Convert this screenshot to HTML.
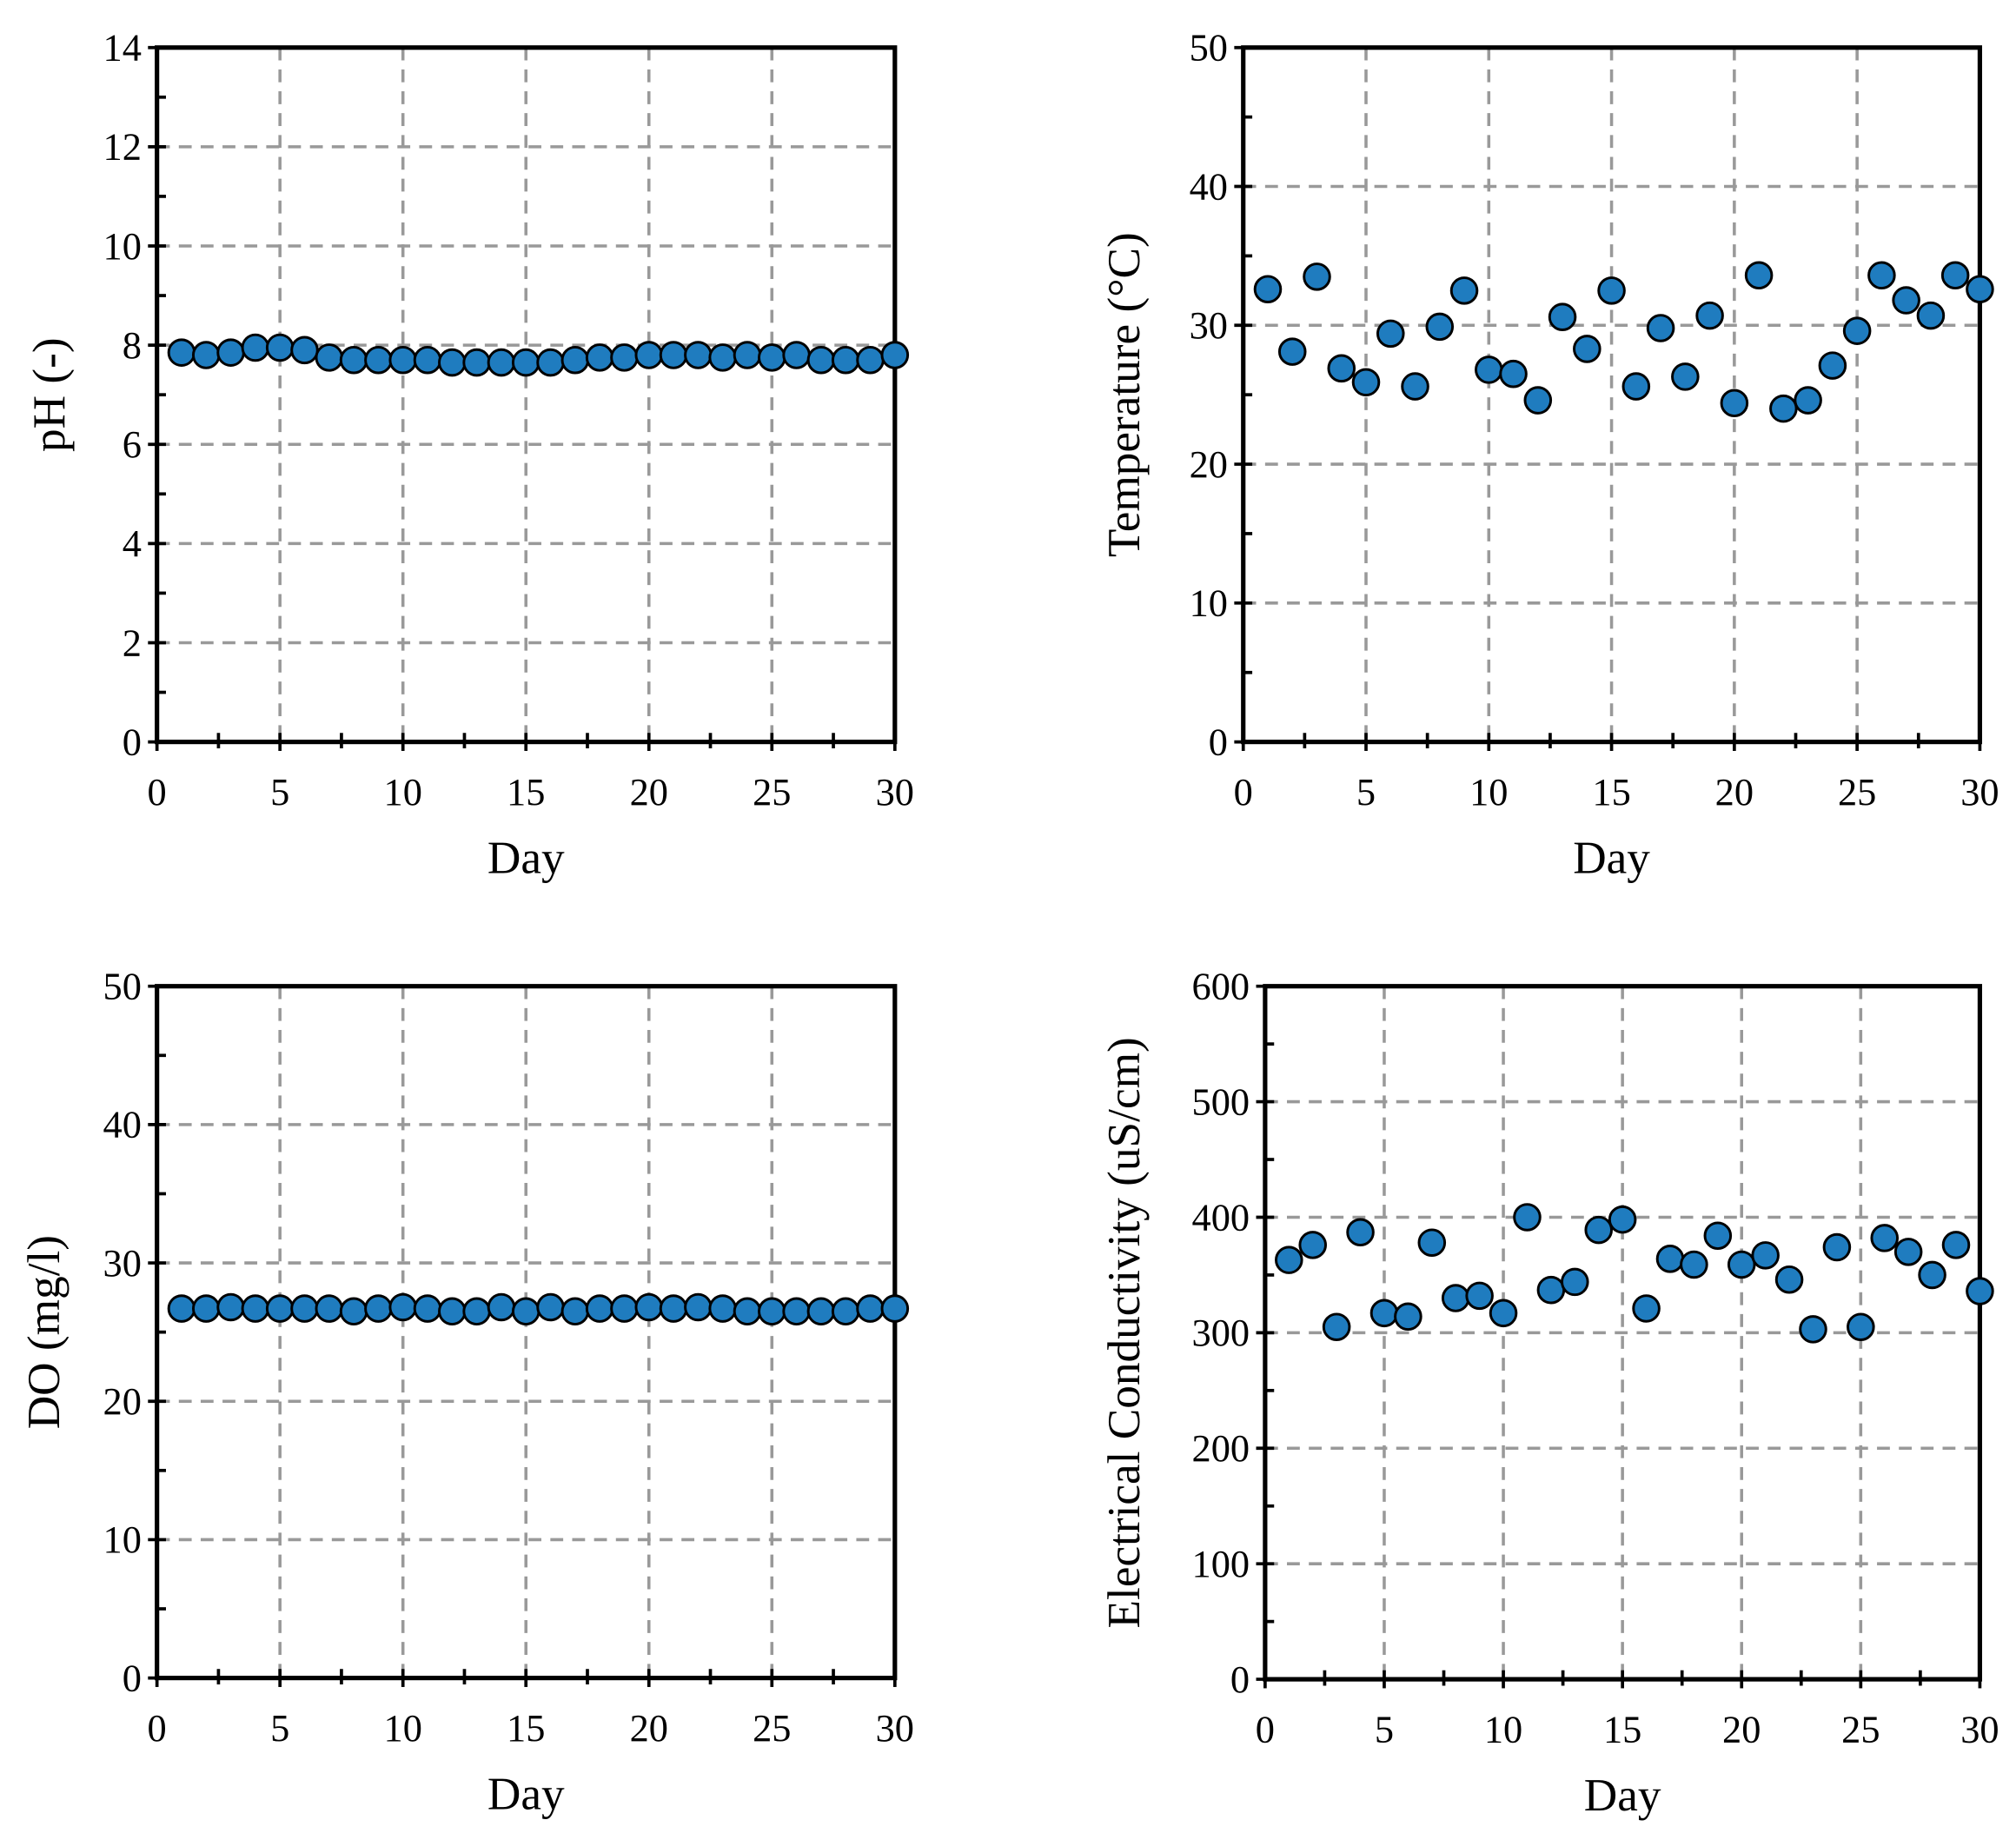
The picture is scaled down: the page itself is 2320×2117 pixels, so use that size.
<!DOCTYPE html>
<html><head><meta charset="utf-8"><style>
html,body{margin:0;padding:0;background:#fff}
svg{display:block}
text{font-family:"Liberation Serif",serif;fill:#000}
</style></head><body>
<svg id="fig" width="2320" height="2117" viewBox="0 0 1568 1431" xmlns="http://www.w3.org/2000/svg"></svg>
<script>
const days = Array.from({length:30},(_,i)=>i+1);
const phValues = [7.85,7.8,7.85,7.95,7.95,7.9,7.75,7.7,7.7,7.7,7.7,7.65,7.65,7.65,7.65,7.65,7.7,7.75,7.75,7.8,7.8,7.8,7.75,7.8,7.75,7.8,7.7,7.7,7.7,7.8];
const tempValues = [32.6,28.1,33.5,26.9,25.9,29.4,25.6,29.9,32.5,26.8,26.5,24.6,30.6,28.3,32.5,25.6,29.8,26.3,30.7,24.4,33.6,24.0,24.6,27.1,29.6,33.6,31.8,30.7,33.6,32.6];
const doValues = [26.7,26.7,26.8,26.7,26.7,26.7,26.7,26.5,26.7,26.8,26.7,26.5,26.5,26.8,26.5,26.8,26.5,26.7,26.7,26.8,26.7,26.8,26.7,26.5,26.5,26.5,26.5,26.5,26.7,26.7];
const ecValues = [363,376,305,387,317,314,378,330,332,317,400,337,344,389,398,321,364,359,384,359,367,346,303,374,305,382,370,350,376,336];
const xTicks = [0,5,10,15,20,25,30];
const phTicks = [0,2,4,6,8,10,12,14];
const tempTicks = [0,10,20,30,40,50];
const doTicks = [0,10,20,30,40,50];
const ecTicks = [0,100,200,300,400,500,600];

const NS="http://www.w3.org/2000/svg";
const svg=document.getElementById('fig');
function mk(tag,attrs,parent){const e=document.createElementNS(NS,tag);for(const k in attrs)e.setAttribute(k,attrs[k]);(parent||svg).appendChild(e);return e;}

function panel(key,L,R,T,B,yTicks,vals,yLabel,labelX){
  const g=mk('g',{});
  
  
  const yMax=yTicks[yTicks.length-1];
  const sx=v=>L+(R-L)*v/30, sy=v=>B-(B-T)*v/yMax;
  xTicks.forEach(t=>{ if(t>0&&t<30){const l=mk('line',{x1:sx(t),x2:sx(t),y1:T,y2:B,stroke:'#999','stroke-width':2.4,'stroke-dasharray':'10,7'},g);
    
    }});
  yTicks.forEach(t=>{ if(t>0&&t<yMax){const l=mk('line',{x1:L,x2:R,y1:sy(t),y2:sy(t),stroke:'#999','stroke-width':2.4,'stroke-dasharray':'10,7'},g);
    
    }});
  const f=mk('rect',{x:L,y:T,width:R-L,height:B-T,fill:'none',stroke:'#000','stroke-width':3.5},g);
  
  
  for(let v=0;v<=30;v+=2.5){const maj=v%5===0;
    mk('line',{x1:sx(v),x2:sx(v),y1:B-7,y2:B+(maj?7:5),stroke:'#000','stroke-width':2.5},g);}
  xTicks.forEach(t=>{const tx=mk('text',{x:sx(t),y:B+49,'text-anchor':'middle','font-size':30},g);tx.textContent=t;
    
    });
  const step=yTicks[1]-yTicks[0];
  for(let v=0;v<=yMax+1e-9;v+=step/2){const maj=Math.abs(v/step-Math.round(v/step))<1e-6;
    mk('line',{x1:L-(maj?7:0),x2:L+7,y1:sy(v),y2:sy(v),stroke:'#000','stroke-width':2.5},g);}
  yTicks.forEach(t=>{const tx=mk('text',{x:L-12,y:sy(t)+10,'text-anchor':'end','font-size':30},g);tx.textContent=t;
    
    });
  const xl=mk('text',{x:(L+R)/2,y:B+102,'text-anchor':'middle','font-size':36},g);xl.textContent='Day';
  
  
  const yl=mk('text',{x:0,y:0,'text-anchor':'middle','font-size':36,transform:`translate(${labelX},${(T+B)/2}) rotate(-90)`},g);yl.textContent=yLabel;
  
  
  days.forEach((d,i)=>{const c=mk('circle',{cx:sx(d),cy:sy(vals[i]),r:10,fill:'#1f7cbf',stroke:'#000','stroke-width':2},g);
    
    });
}
panel('ph',122,696,37,577,phTicks,phValues,'pH (-)',50);
panel('temperature',967,1540,37,577,tempTicks,tempValues,'Temperature (°C)',886);
panel('do',122,696,767,1305,doTicks,doValues,'DO (mg/l)',46);
panel('ec',984,1540,767,1306,ecTicks,ecValues,'Electrical  Conductivity (uS/cm)',886);
</script>
</body></html>
